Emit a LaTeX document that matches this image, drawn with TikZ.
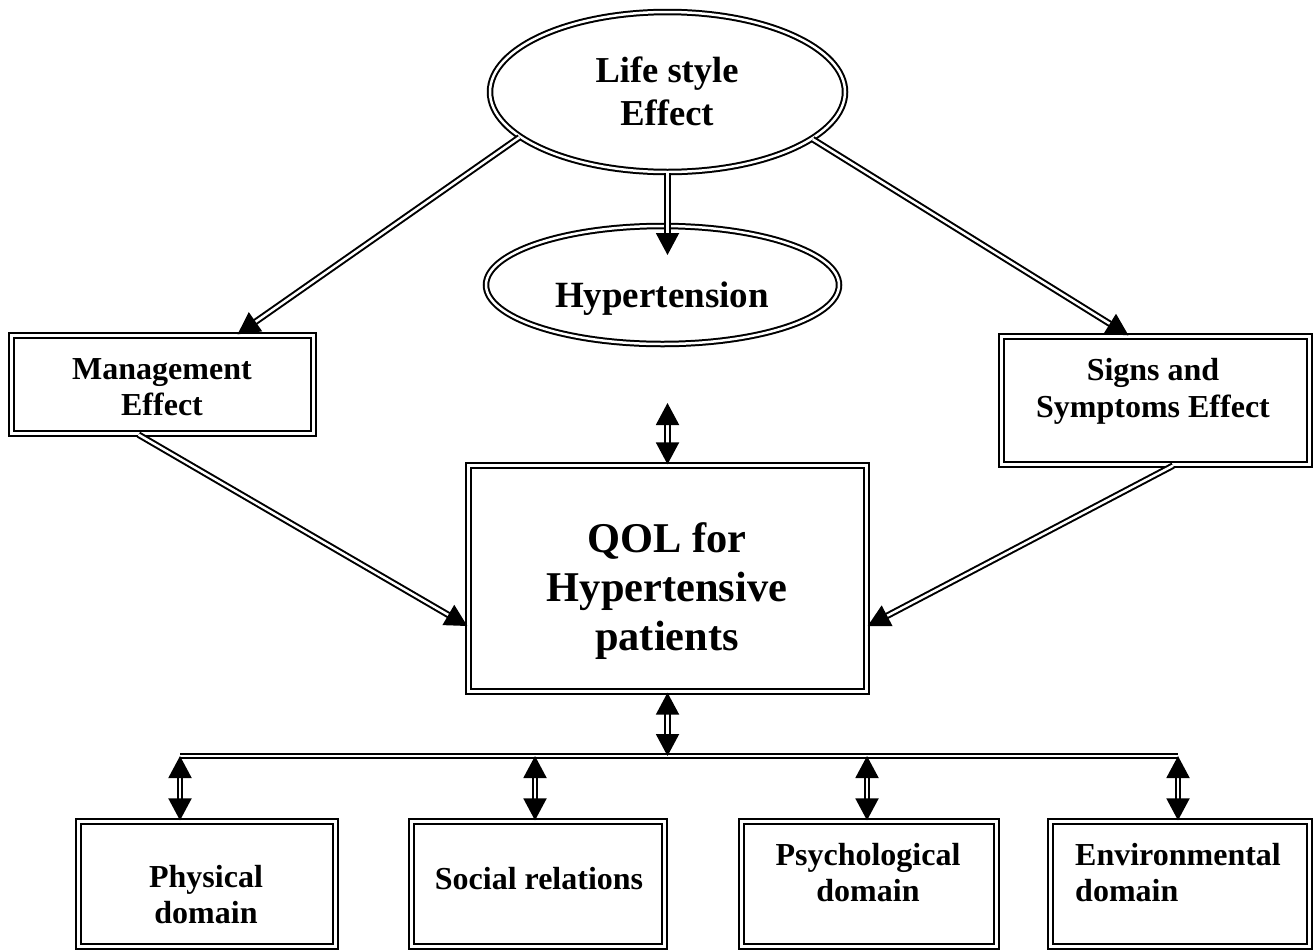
\documentclass[tikz,border=0pt]{standalone}
\usepackage{fontspec}
\setmainfont{Liberation Serif}
\usetikzlibrary{arrows.meta,shapes.geometric,calc}
\begin{document}
\begin{tikzpicture}[x=1pt,y=-1pt,
  box/.style={draw, rectangle, double, double distance=2.5pt, line width=2.3pt, inner sep=0pt},
  ell/.style={draw, ellipse, double, double distance=2.5pt, line width=2pt, inner sep=0pt},
  conn/.style={draw, double, double distance=2.5pt, line width=2pt},
  tip/.style={-{Triangle[length=22pt,width=23pt]}},
  tips/.style={{Triangle[length=22pt,width=23pt]}-{Triangle[length=22pt,width=23pt]}},
  txt/.style={font=\bfseries\fontsize{32}{36}\selectfont, align=center, inner sep=0pt, anchor=base},
]
\useasboundingbox (0,0) rectangle (1316,951);

% shapes
\node[ell, minimum width=355pt, minimum height=160pt] (life) at (667.5,92) {};
\node[ell, minimum width=353pt, minimum height=118pt] (hyp) at (662.5,285) {};
\node[box, minimum width=302pt, minimum height=98pt] (mgmt) at (162.5,384.5) {};
\node[box, minimum width=308pt, minimum height=128pt] (signs) at (1155.5,400.5) {};
\node[box, minimum width=398pt, minimum height=226pt] (qol) at (667.5,578.5) {};
\node[box, minimum width=257pt, minimum height=125pt] (phys) at (207,884) {};
\node[box, minimum width=253pt, minimum height=125pt] (social) at (538,884) {};
\node[box, minimum width=255pt, minimum height=125pt] (psych) at (869,884) {};
\node[box, minimum width=259pt, minimum height=125pt] (env) at (1180,884) {};

% texts (anchor = baseline of the last line)
\node[txt, font=\bfseries\fontsize{36.5}{43}\selectfont] (tlife) at (667,125) {Life style\\Effect};
\node[txt, font=\bfseries\fontsize{37}{43}\selectfont] (thyp) at (662,307) {Hypertension};
\node[txt] (tmgmt) at (162,415) {Management\\Effect};
\node[txt, font=\bfseries\fontsize{32}{37}\selectfont] (tsigns) at (1153,417) {Signs and\\Symptoms Effect};
\node[txt, font=\bfseries\fontsize{42.4}{49}\selectfont] (tqol) at (667,650) {QOL for\\Hypertensive\\patients};
\node[txt] (tphys) at (206,923) {Physical\\domain};
\node[txt] (tsocial) at (539,889) {Social relations};
\node[txt] (tpsych) at (868,901) {Psychological\\domain};
\node[txt, align=left, anchor=base west] (tenv) at (1075,901) {Environmental\\domain};

% connectors
\coordinate (busL) at (180,756);
\coordinate (busR) at (1178,756);
\draw[conn,tip] (life.197) -- ([xshift=75pt]mgmt.north);
\draw[conn,tip] (life.342) -- ([xshift=-27pt]signs.north);
\draw[conn,tip] (life.south -| qol.north) -- ($(hyp.north -| qol.north)+(0,30)$);
\draw[conn,tips] ($(hyp.south -| qol.north)+(0,58)$) -- (qol.north);
\draw[conn,tip] ([xshift=-24pt]mgmt.south) -- ([yshift=-47.5pt]qol.west);
\draw[conn,tip] ([xshift=17.5pt]signs.south) -- ([yshift=-47.5pt]qol.east);
\draw[conn] (busL) -- (busR);
\draw[conn,tips] (qol.south) -- (qol.south |- busL);
\draw[conn,tips] (busL) -- (busL |- phys.north);
\draw[conn,tips] ([xshift=-3pt]social.north |- busL) -- ([xshift=-3pt]social.north);
\draw[conn,tips] ([xshift=-2pt]psych.north |- busL) -- ([xshift=-2pt]psych.north);
\draw[conn,tips] (busR) -- (busR |- env.north);
\end{tikzpicture}
\end{document}
